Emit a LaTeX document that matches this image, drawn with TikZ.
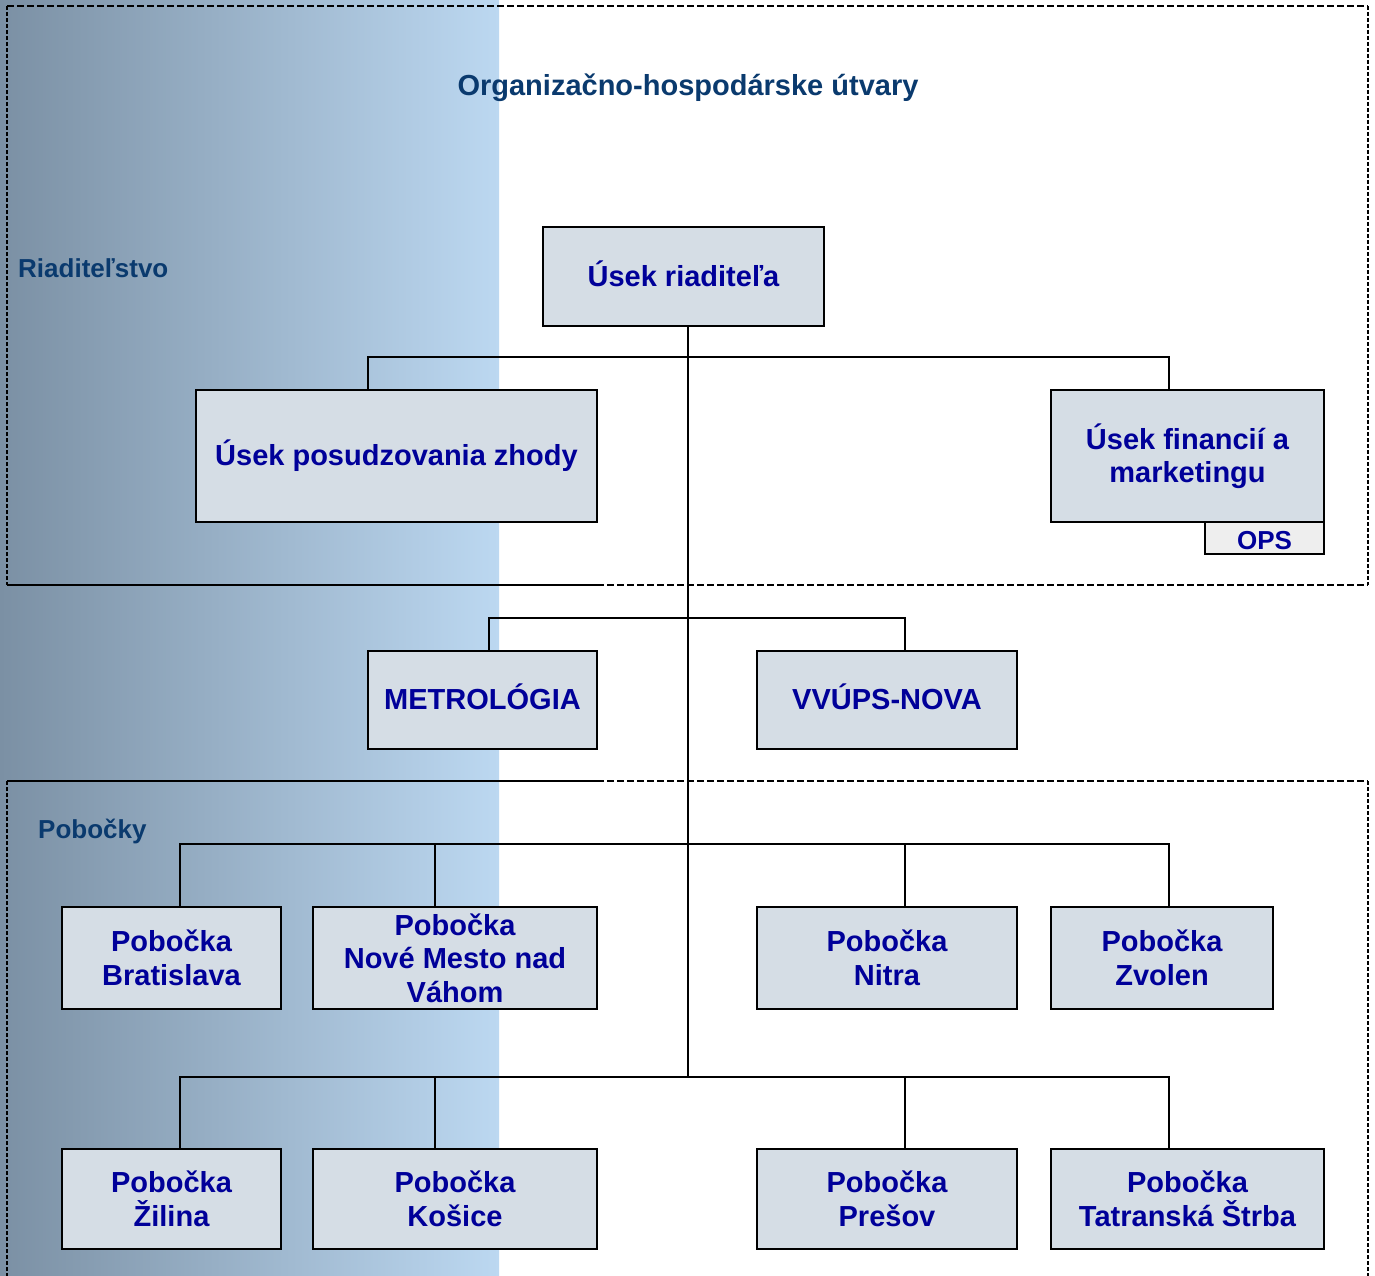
\documentclass[tikz,border=0pt]{standalone}
\usepackage{fontspec}
\setmainfont{Liberation Sans}
\definecolor{boxfill}{HTML}{D5DDE5}
\definecolor{opsfill}{HTML}{EEEEEE}
\definecolor{nodeblue}{HTML}{000099}
\definecolor{titleblue}{HTML}{0A3A6E}
\definecolor{gradL}{HTML}{7B90A4}
\definecolor{gradR}{HTML}{BCD8F1}
\begin{document}
\begin{tikzpicture}[x=1pt,y=-1pt,
  box/.style={draw=black, line width=2pt, fill=boxfill, text=nodeblue,
    font=\bfseries\fontsize{29}{33.5}\selectfont, align=center,
    inner sep=0pt, anchor=north west},
  onebox/.style={box, text depth=6pt},
  opsbox/.style={box, fill=opsfill, font=\bfseries\fontsize{26}{30}\selectfont},
  conn/.style={draw=black, line width=1.6pt},
  solidedge/.style={draw=black, line width=2pt},
  hdash/.style={draw=black, line width=2pt, dash pattern=on 7pt off 3pt},
  vdash/.style={draw=black, line width=2pt, dash pattern=on 4pt off 2pt},
  lbl/.style={text=titleblue, font=\bfseries\fontsize{26}{30}\selectfont, inner sep=0pt, anchor=base west},
  ttl/.style={text=titleblue, font=\bfseries\fontsize{29}{33}\selectfont, inner sep=0pt, anchor=base}]
\useasboundingbox (0,0) rectangle (1375,1276);
\fill[white] (0,0) rectangle (1375,1276);
\shade[left color=gradL, right color=gradR] (0,0) rectangle (499,1276);

% dashed frames
\draw[hdash] (7,6) -- (1368,6);
\draw[vdash] (7,6) -- (7,585);
\draw[vdash] (1368,6) -- (1368,585);
\draw[solidedge] (7,585) -- (597,585);
\draw[hdash] (597,585) -- (1368,585);
\draw[solidedge] (7,781) -- (597,781);
\draw[hdash] (597,781) -- (1368,781);
\draw[vdash] (7,781) -- (7,1276);
\draw[vdash] (1368,781) -- (1368,1276);

% labels
\node[ttl] (title) at (688,96) {Organizačno-hospodárske útvary};
\node[lbl] (riadlbl) at (18,277) {Riaditeľstvo};
\node[lbl] (poblbl) at (38,838) {Pobočky};

% junction coordinates
\coordinate (jA) at (688,357);
\coordinate (jB) at (688,618);
\coordinate (jC) at (688,844);
\coordinate (jD) at (688,1077);

% boxes
\node[onebox, minimum width=281pt, minimum height=99pt] (riad) at (542,226) {Úsek riaditeľa};
\node[box, minimum width=401pt, minimum height=132pt] (posud) at (195,389) {Úsek posudzovania zhody};
\node[box, minimum width=273pt, minimum height=132pt] (fin) at (1050,389) {Úsek financií a\\marketingu};
\node[opsbox, minimum width=119pt, minimum height=32pt, text height=23pt, text depth=0pt] (ops) at (1204,521) {OPS};
\node[onebox, minimum width=229pt, minimum height=98pt] (metro) at (367,650) {METROLÓGIA};
\node[onebox, minimum width=260pt, minimum height=98pt] (vvups) at (756,650) {VVÚPS-NOVA};

\node[box, minimum width=219pt, minimum height=102pt] (brat) at (61,906) {Pobočka\\Bratislava};
\node[box, minimum width=284pt, minimum height=102pt] (nove) at (312,906) {Pobočka\\Nové Mesto nad\\Váhom};
\node[box, minimum width=260pt, minimum height=102pt] (nitra) at (756,906) {Pobočka\\Nitra};
\node[box, minimum width=222pt, minimum height=102pt] (zvol) at (1050,906) {Pobočka\\Zvolen};

\node[box, minimum width=219pt, minimum height=100pt] (zil) at (61,1148) {Pobočka\\Žilina};
\node[box, minimum width=284pt, minimum height=100pt] (kos) at (312,1148) {Pobočka\\Košice};
\node[box, minimum width=260pt, minimum height=100pt] (pres) at (756,1148) {Pobočka\\Prešov};
\node[box, minimum width=273pt, minimum height=100pt] (tat) at (1050,1148) {Pobočka\\Tatranská Štrba};

% connectors
\draw[conn] (riad.south -| jA) -- (jD);
\draw[conn] ([xshift=-28.5pt]posud.north) |- (jA) -| ([xshift=-18.5pt]fin.north);
\draw[conn] ([xshift=6.5pt]metro.north) |- (jB) -| ([xshift=18pt]vvups.north);
\draw[conn] ([xshift=8.5pt]brat.north) |- (jC) -| ([xshift=7pt]zvol.north);
\draw[conn] ([xshift=-20pt]nove.north) -- ([xshift=-20pt]nove.north |- jC);
\draw[conn] ([xshift=18pt]nitra.north) -- ([xshift=18pt]nitra.north |- jC);
\draw[conn] ([xshift=8.5pt]zil.north) |- (jD) -| ([xshift=-18.5pt]tat.north);
\draw[conn] ([xshift=-20pt]kos.north) -- ([xshift=-20pt]kos.north |- jD);
\draw[conn] ([xshift=18pt]pres.north) -- ([xshift=18pt]pres.north |- jD);
\end{tikzpicture}
\end{document}
